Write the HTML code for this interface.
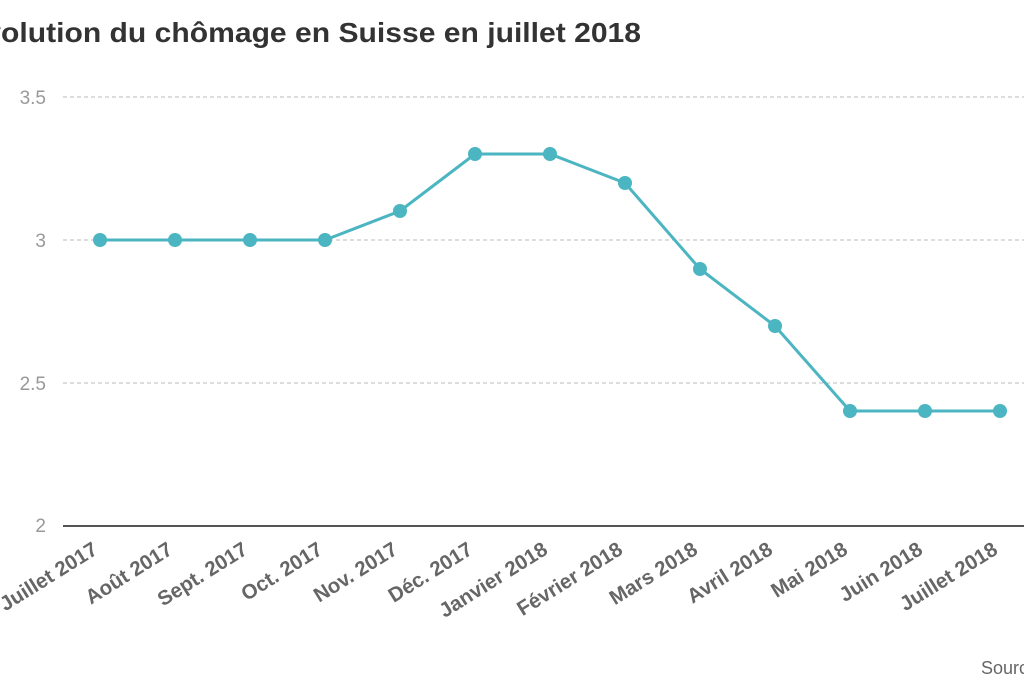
<!DOCTYPE html>
<html><head><meta charset="utf-8"><style>
html,body{margin:0;padding:0;background:#fff;width:1024px;height:683px;overflow:hidden}
svg{display:block}
</style></head><body>
<svg width="1024" height="683" xmlns="http://www.w3.org/2000/svg" font-family="Liberation Sans, Arial, sans-serif">
<text x="1" y="42" font-size="28" font-weight="bold" fill="#333" text-anchor="end">Év</text>
<text x="1" y="42" font-size="28" font-weight="bold" fill="#333" textLength="640" lengthAdjust="spacingAndGlyphs">olution du chômage en Suisse en juillet 2018</text>
<g stroke="#bbb" stroke-width="1" stroke-dasharray="4,3">
<line x1="63" y1="97" x2="1024" y2="97"/>
<line x1="63" y1="240" x2="1024" y2="240"/>
<line x1="63" y1="383" x2="1024" y2="383"/>
</g>
<line x1="63" y1="526" x2="1024" y2="526" stroke="#555" stroke-width="2"/>
<g font-size="19" fill="#999" text-anchor="end">
<text x="46" y="104">3.5</text>
<text x="46" y="247">3</text>
<text x="46" y="390">2.5</text>
<text x="46" y="532">2</text>
</g>
<polyline fill="none" stroke="#4bb5c1" stroke-width="3" points="100,240 175,240 250,240 325,240 400,211 475,154 550,154 625,183 700,269 775,326 850,411 925,411 1000,411"/>
<g fill="#4bb5c1">
<circle cx="100" cy="240" r="7"/><circle cx="175" cy="240" r="7"/><circle cx="250" cy="240" r="7"/><circle cx="325" cy="240" r="7"/><circle cx="400" cy="211" r="7"/><circle cx="475" cy="154" r="7"/><circle cx="550" cy="154" r="7"/><circle cx="625" cy="183" r="7"/><circle cx="700" cy="269" r="7"/><circle cx="775" cy="326" r="7"/><circle cx="850" cy="411" r="7"/><circle cx="925" cy="411" r="7"/><circle cx="1000" cy="411" r="7"/>
</g>
<g font-size="20.5" font-weight="bold" fill="#666" text-anchor="end">
<text transform="translate(99,553) rotate(-32)">Juillet 2017</text>
<text transform="translate(174,553) rotate(-32)">Août 2017</text>
<text transform="translate(249,553) rotate(-32)">Sept. 2017</text>
<text transform="translate(324,553) rotate(-32)">Oct. 2017</text>
<text transform="translate(399,553) rotate(-32)">Nov. 2017</text>
<text transform="translate(474,553) rotate(-32)">Déc. 2017</text>
<text transform="translate(549,553) rotate(-32)">Janvier 2018</text>
<text transform="translate(624,553) rotate(-32)">Février 2018</text>
<text transform="translate(699,553) rotate(-32)">Mars 2018</text>
<text transform="translate(774,553) rotate(-32)">Avril 2018</text>
<text transform="translate(849,553) rotate(-32)">Mai 2018</text>
<text transform="translate(924,553) rotate(-32)">Juin 2018</text>
<text transform="translate(999,553) rotate(-32)">Juillet 2018</text>
</g>
<text x="981" y="674" font-size="18" fill="#666">Source</text>
</svg>
</body></html>
